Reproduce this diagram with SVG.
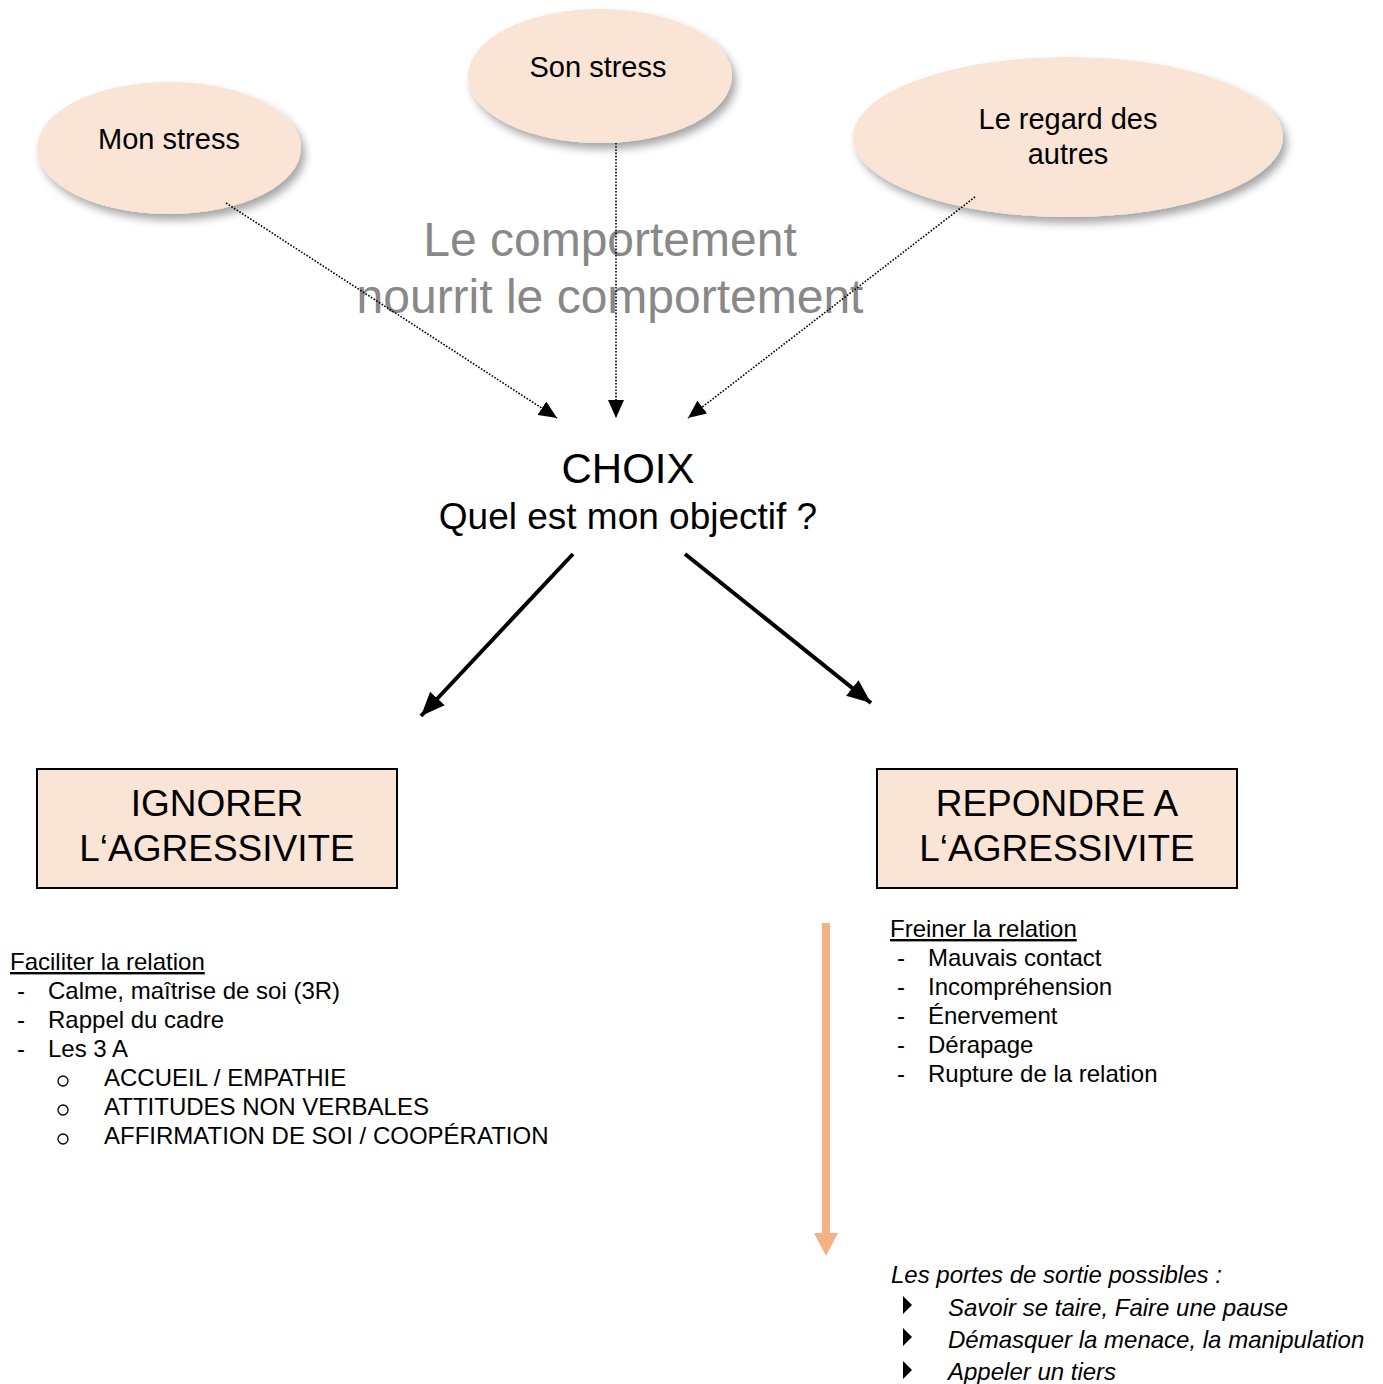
<svg xmlns="http://www.w3.org/2000/svg" width="1383" height="1384" viewBox="0 0 1383 1384">
  <style>
    text { font-family: "Liberation Sans", Arial, sans-serif; fill: #000; }
    .bubble { fill: #F9E4D6; filter: url(#shadow); }
    .box { fill: #F9E4D6; stroke: #000; stroke-width: 2; }
    .dotted { stroke: #000; stroke-width: 1.6; stroke-dasharray: 1.6 1.6; fill: none; }
    .solid { stroke: #000; stroke-width: 4; fill: none; }
    .watermark { fill: #888888; font-size: 48px; text-anchor: middle; }
    .item { font-size: 24px; }
    .exit { font-size: 24px; font-style: italic; }
  </style>
  <defs>
    <filter id="shadow" x="-20%" y="-20%" width="140%" height="150%">
      <feDropShadow dx="4" dy="6" stdDeviation="4" flood-color="#000" flood-opacity="0.35"/>
    </filter>
    <marker id="tri" viewBox="0 0 18 16" refX="18" refY="8" markerWidth="18" markerHeight="16" markerUnits="userSpaceOnUse" orient="auto">
      <path d="M0,0 L18,8 L0,16 Z" fill="#000"/>
    </marker>
    <marker id="triBig" viewBox="0 0 24 20" refX="24" refY="10" markerWidth="24" markerHeight="20" markerUnits="userSpaceOnUse" orient="auto">
      <path d="M0,0 L24,10 L0,20 Z" fill="#000"/>
    </marker>
  </defs>

  <!-- background -->
  <rect width="1383" height="1384" fill="#fff"/>

  <!-- stress sources -->
  <g id="mon-stress">
    <ellipse class="bubble" cx="169" cy="148" rx="132" ry="66"/>
    <text x="169" y="149" font-size="29" text-anchor="middle">Mon stress</text>
  </g>
  <g id="son-stress">
    <ellipse class="bubble" cx="600" cy="76" rx="132" ry="67"/>
    <text x="598" y="77" font-size="29" text-anchor="middle">Son stress</text>
  </g>
  <g id="regard-autres">
    <ellipse class="bubble" cx="1068" cy="137" rx="215" ry="80"/>
    <text x="1068" y="129" font-size="29" text-anchor="middle">Le regard des</text>
    <text x="1068" y="164" font-size="29" text-anchor="middle">autres</text>
  </g>

  <!-- background caption -->
  <g id="caption">
    <text class="watermark" x="610" y="256">Le comportement</text>
    <text class="watermark" x="610" y="313">nourrit le comportement</text>
  </g>

  <!-- connectors -->
  <g id="connectors">
    <line class="dotted" x1="226" y1="203" x2="557" y2="418" marker-end="url(#tri)"/>
    <line class="dotted" x1="616" y1="143" x2="616" y2="418" marker-end="url(#tri)"/>
    <line class="dotted" x1="975" y1="197" x2="688" y2="418" marker-end="url(#tri)"/>
    <line class="solid" x1="573" y1="554" x2="421" y2="716" marker-end="url(#triBig)"/>
    <line class="solid" x1="685" y1="554" x2="871" y2="703" marker-end="url(#triBig)"/>
    <!-- orange escalation arrow -->
    <line x1="826" y1="923" x2="826" y2="1236" stroke="#F4B183" stroke-width="8"/>
    <path d="M814,1233 L838,1233 L826,1256 Z" fill="#F4B183"/>
  </g>

  <!-- central choice -->
  <g id="choix">
    <text x="628" y="483" font-size="42" text-anchor="middle">CHOIX</text>
    <text x="628" y="529" font-size="37" text-anchor="middle">Quel est mon objectif ?</text>
  </g>

  <!-- outcome boxes -->
  <g id="ignorer">
    <rect class="box" x="37" y="769" width="360" height="119"/>
    <text x="217" y="816" font-size="37" text-anchor="middle">IGNORER</text>
    <text x="217" y="861" font-size="37" text-anchor="middle">L‘AGRESSIVITE</text>
  </g>
  <g id="repondre">
    <rect class="box" x="877" y="769" width="360" height="119"/>
    <text x="1057" y="816" font-size="37" text-anchor="middle">REPONDRE A</text>
    <text x="1057" y="861" font-size="37" text-anchor="middle">L‘AGRESSIVITE</text>
  </g>

  <!-- left list -->
  <g id="faciliter">
    <text class="item" x="10" y="970" text-decoration="underline">Faciliter la relation</text>
    <text class="item" x="17" y="999">-</text>
    <text class="item" x="48" y="999">Calme, maîtrise de soi (3R)</text>
    <text class="item" x="17" y="1028">-</text>
    <text class="item" x="48" y="1028">Rappel du cadre</text>
    <text class="item" x="17" y="1057">-</text>
    <text class="item" x="48" y="1057">Les 3 A</text>
    <circle cx="63" cy="1081" r="5" fill="none" stroke="#000" stroke-width="1.3"/>
    <text class="item" x="104" y="1086">ACCUEIL / EMPATHIE</text>
    <circle cx="63" cy="1110" r="5" fill="none" stroke="#000" stroke-width="1.3"/>
    <text class="item" x="104" y="1115">ATTITUDES NON VERBALES</text>
    <circle cx="63" cy="1139" r="5" fill="none" stroke="#000" stroke-width="1.3"/>
    <text class="item" x="104" y="1144">AFFIRMATION DE SOI / COOPÉRATION</text>
  </g>

  <!-- right list -->
  <g id="freiner">
    <text class="item" x="890" y="937" text-decoration="underline">Freiner la relation</text>
    <text class="item" x="897" y="966">-</text>
    <text class="item" x="928" y="966">Mauvais contact</text>
    <text class="item" x="897" y="995">-</text>
    <text class="item" x="928" y="995">Incompréhension</text>
    <text class="item" x="897" y="1024">-</text>
    <text class="item" x="928" y="1024">Énervement</text>
    <text class="item" x="897" y="1053">-</text>
    <text class="item" x="928" y="1053">Dérapage</text>
    <text class="item" x="897" y="1082">-</text>
    <text class="item" x="928" y="1082">Rupture de la relation</text>
  </g>

  <!-- exit options -->
  <g id="sorties">
    <text class="exit" x="891" y="1283">Les portes de sortie possibles :</text>
    <path d="M903,1296 L912,1305 L903,1314 Z" fill="#000"/>
    <text class="exit" x="948" y="1316">Savoir se taire, Faire une pause</text>
    <path d="M903,1328 L912,1337 L903,1346 Z" fill="#000"/>
    <text class="exit" x="948" y="1348">Démasquer la menace, la manipulation</text>
    <path d="M903,1361 L912,1370 L903,1379 Z" fill="#000"/>
    <text class="exit" x="948" y="1380">Appeler un tiers</text>
  </g>
</svg>
